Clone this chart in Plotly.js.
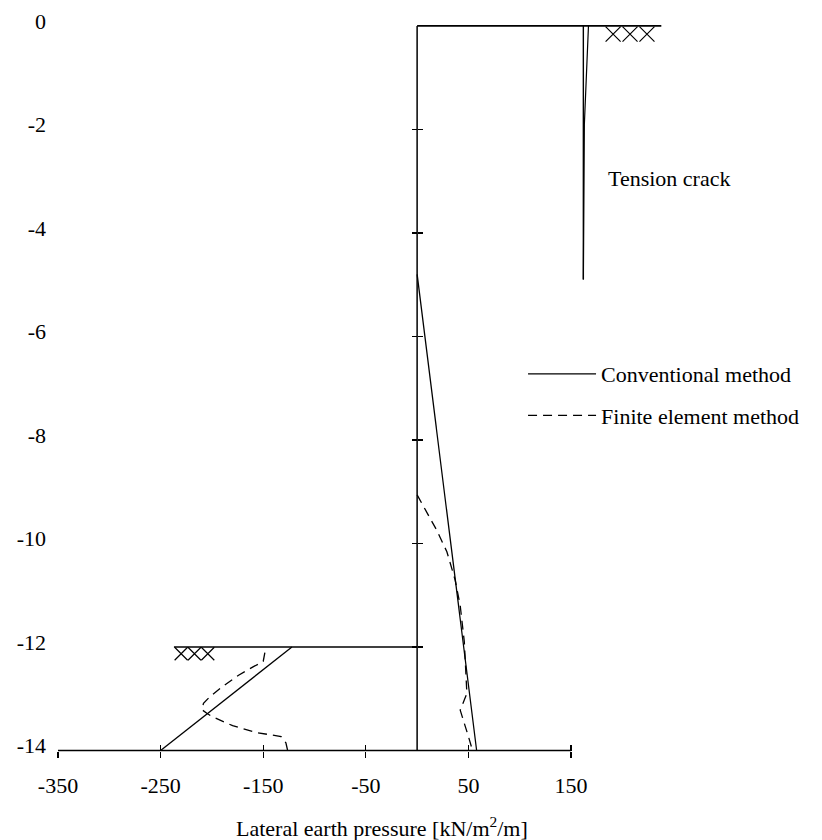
<!DOCTYPE html>
<html><head><meta charset="utf-8">
<script src="https://cdn.plot.ly/plotly-3.0.1.min.js"></script>
<style>html,body{margin:0;padding:0;background:#fff}</style>
</head><body><div id="chart" style="width:822px;height:840px"></div>
<script>
// ---- data ----
const wallX = [0, 0];
const wallY = [0, -14];
const groundTopX = [0, 238];
const groundTopY = [0, 0];
const groundBotX = [-237, 0];
const groundBotY = [-12, -12];
const crackLeftX = [162, 162];
const crackLeftY = [0, -4.9];
const crackRightX = [167, 163, 162];
const crackRightY = [0, -1.9, -4.9];
const convActiveX = [0, 58];
const convActiveY = [-4.8, -14];
const convPassiveX = [-122, -250];
const convPassiveY = [-12, -14];
const feActiveX = [0, 8, 19, 29, 37, 42, 46, 48.5, 42, 50, 54];
const feActiveY = [-9.06, -9.35, -9.74, -10.16, -10.7, -11.2, -11.9, -12.9, -13.22, -13.73, -14];
const fePassiveX = [-148.4, -150, -159.5, -173.6, -189.4, -202, -208.2, -209.8, -205, -200.3, -179.8, -157.6, -132.6, -127.9, -126.3];
const fePassiveY = [-12.11, -12.28, -12.38, -12.54, -12.76, -12.96, -13.09, -13.21, -13.28, -13.34, -13.52, -13.65, -13.73, -13.85, -13.99];
const hatchTopX = [191, 207.5, 224];
const hatchTopY = [-0.16, -0.16, -0.16];
const hatchBotX = [-230, -217, -204];
const hatchBotY = [-12.13, -12.13, -12.13];
const xTickVals = [-350, -250, -150, -50, 50, 150];
const xTickText = ['-350', '-250', '-150', '-50', '50', '150'];
const yTickVals = [0, -2, -4, -6, -8, -10, -12, -14];
const yTickText = ['0', '-2', '-4', '-6', '-8', '-10', '-12', '-14'];
const wallTickVals = [-2, -4, -6, -8, -10, -12];
const crackLabel = {x: 184, y: -2.95, text: 'Tension crack'};

// ---- layout constants ----
const XMIN = -350, XMAX = 394.6, YMIN = -14.106, YMAX = 0.5;
const FONT = 'Liberation Serif';
const black = '#000';
const posX0 = (0 - XMIN) / (XMAX - XMIN);
const posYb = (-14 - YMIN) / (YMAX - YMIN);

const thin = {color: black, width: 1.3};
function line(x, y, extra) {
  return Object.assign({x: x, y: y, type: 'scatter', mode: 'lines', line: thin, showlegend: false, hoverinfo: 'skip'}, extra || {});
}
const dash = {color: black, width: 1.3, dash: '9px,6px'};

const traces = [
  // wall carries the outward tick marks (yaxis2)
  line(wallX, wallY, {yaxis: 'y2', line: {color: black, width: 1.5}}),
  // top ground carries the inward wall ticks (yaxis3)
  line(groundTopX, groundTopY, {yaxis: 'y3', line: {color: black, width: 1.6}}),
  // excavation ground carries the inward x ticks (xaxis2)
  line(groundBotX, groundBotY, {xaxis: 'x2', line: {color: black, width: 1.6}}),
  line(crackLeftX, crackLeftY, {line: {color: black, width: 1.4}}),
  line(crackRightX, crackRightY, {line: {color: black, width: 1.2}}),
  line(convActiveX, convActiveY, {name: 'Conventional method', showlegend: true, legendgroup: 'a'}),
  line(convPassiveX, convPassiveY, {legendgroup: 'a'}),
  line(feActiveX, feActiveY, {name: 'Finite element method', showlegend: true, legendgroup: 'b', line: dash}),
  line(fePassiveX, fePassiveY, {legendgroup: 'b', line: dash}),
  {x: hatchTopX, y: hatchTopY, type: 'scatter', mode: 'markers', showlegend: false, hoverinfo: 'skip',
   marker: {symbol: 'x-thin', size: 15, line: {color: black, width: 1.2}}},
  {x: hatchBotX, y: hatchBotY, type: 'scatter', mode: 'markers', showlegend: false, hoverinfo: 'skip',
   marker: {symbol: 'x-thin', size: 13, line: {color: black, width: 1.2}}}
];

const tickFont = {family: FONT, size: 22, color: black};
const noGrid = {showgrid: false, zeroline: false, showline: false, fixedrange: true};

const layout = {
  width: 822, height: 840,
  margin: {l: 58, r: 0, t: 0, b: 84},
  paper_bgcolor: '#fff', plot_bgcolor: '#fff',
  font: {family: FONT, color: black},
  xaxis: Object.assign({}, noGrid, {
    range: [XMIN, XMAX], anchor: 'free', position: posYb,
    ticks: 'outside', ticklen: 6, tickwidth: 1.2, tickcolor: black,
    tickmode: 'array', tickvals: xTickVals, ticktext: xTickText, tickfont: tickFont,
    ticklabelstandoff: 9
  }),
  xaxis2: Object.assign({}, noGrid, {
    range: [XMIN, XMAX], overlaying: 'x', anchor: 'free', position: posYb,
    ticks: 'inside', ticklen: 6, tickwidth: 1.2, tickcolor: black,
    tickmode: 'array', tickvals: xTickVals, showticklabels: false
  }),
  yaxis: Object.assign({}, noGrid, {
    range: [YMIN, YMAX], ticks: '',
    tickmode: 'array', tickvals: yTickVals, ticktext: yTickText, tickfont: tickFont,
    ticklabelstandoff: 11, ticklabelshift: -5
  }),
  yaxis2: Object.assign({}, noGrid, {
    range: [YMIN, YMAX], overlaying: 'y', anchor: 'free', position: posX0,
    ticks: 'outside', ticklen: 5, tickwidth: 1.2, tickcolor: black,
    tickmode: 'array', tickvals: wallTickVals, showticklabels: false
  }),
  yaxis3: Object.assign({}, noGrid, {
    range: [YMIN, YMAX], overlaying: 'y', anchor: 'free', position: posX0,
    ticks: 'inside', ticklen: 5, tickwidth: 1.2, tickcolor: black,
    tickmode: 'array', tickvals: wallTickVals, showticklabels: false
  }),
  shapes: [{type: 'line', xref: 'x', yref: 'y', x0: xTickVals[0], x1: xTickVals[xTickVals.length - 1],
            y0: -14, y1: -14, line: {color: black, width: 1.3}}],
  annotations: [
    {xref: 'x', yref: 'y', x: crackLabel.x, y: crackLabel.y, text: crackLabel.text, showarrow: false,
     xanchor: 'left', yanchor: 'middle', font: {family: FONT, size: 22, color: black}},
    {xref: 'paper', yref: 'paper', x: 0.231, y: -0.094, text: 'Lateral earth pressure [kN/m<sup>2</sup>/m]',
     showarrow: false, xanchor: 'left', yanchor: 'middle', font: {family: FONT, size: 22, color: black}}
  ],
  showlegend: true,
  legend: {x: 0.6087, y: 0.533, xanchor: 'left', yanchor: 'top', bgcolor: 'rgba(0,0,0,0)',
           font: {family: FONT, size: 22, color: black}, itemwidth: 68, traceorder: 'grouped',
           tracegroupgap: 10, itemclick: false, itemdoubleclick: false}
};

Plotly.newPlot('chart', traces, layout, {displayModeBar: false, staticPlot: true});
</script></body></html>
